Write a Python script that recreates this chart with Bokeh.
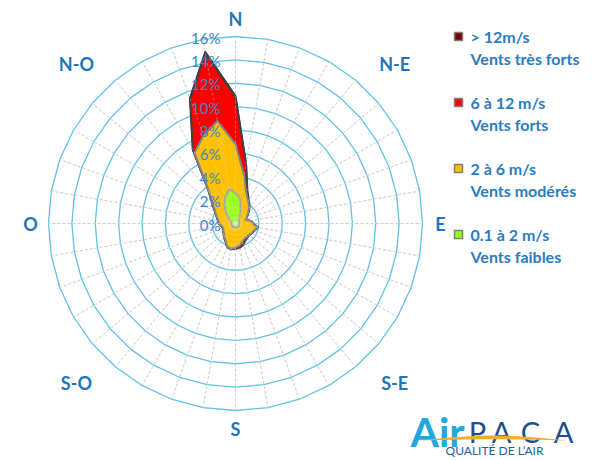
import numpy as np
from bokeh.plotting import figure
from bokeh.core.properties import value
from bokeh.embed import file_html
from bokeh.resources import INLINE

# ---------------- data (cumulative % of time, per 10-degree sector) ----------------
directions = list(range(0, 360, 10))
speed_0_2 = [2.6, 2.2, 1.3, 0.7, 0.45, 0.4, 0.36, 0.34, 0.35, 0.36, 0.35, 0.34, 0.35, 0.36, 0.35, 0.34,
             0.35, 0.36, 0.35, 0.34, 0.35, 0.36, 0.35, 0.34, 0.35, 0.36, 0.35, 0.34, 0.36, 0.4, 0.5, 0.8,
             1.3, 1.9, 2.5, 3.0]
speed_2_6 = [6.8, 4.2, 2.7, 2.2, 1.8, 1.4, 1.1, 0.9, 1.3, 1.5, 1.9, 1.7, 1.6, 1.5, 1.5, 1.5,
             1.7, 1.9, 2.1, 2.2, 2.1, 1.7, 1.5, 1.3, 1.2, 1.1, 1.2, 1.4, 1.5, 1.7, 2.0, 2.5,
             3.5, 7.0, 8.0, 8.9]
speed_6_12 = [10.8, 5.2, 3.0, 2.3, 1.9, 1.5, 1.15, 0.95, 1.35, 1.55, 1.95, 1.75, 1.65, 1.55, 1.6, 1.7,
              1.95, 2.1, 2.2, 2.25, 2.15, 1.75, 1.55, 1.35, 1.25, 1.15, 1.25, 1.45, 1.55, 1.75, 2.05, 2.6,
              3.6, 7.3, 11.3, 14.8]
speed_12 = [10.9, 5.2, 2.9, 2.2, 1.8, 1.4, 1.1, 0.9, 1.3, 1.5, 1.9, 1.7, 1.6, 1.5, 1.5, 1.5,
            1.8, 2.0, 2.1, 2.2, 2.1, 1.7, 1.5, 1.3, 1.2, 1.1, 1.2, 1.4, 1.5, 1.7, 2.0, 2.5,
            3.5, 7.3, 11.4, 14.9]

ring_values = [0, 2, 4, 6, 8, 10, 12, 14, 16]
ring_labels = ["0%", "2%", "4%", "6%", "8%", "10%", "12%", "14%", "16%"]

compass_angles = [0, 45, 90, 135, 180, 225, 270, 315]
compass_labels = ["N", "N-E", "E", "S-E", "S", "S-O", "O", "N-O"]

legend_titles = ["> 12m/s", "6 à 12 m/s", "2 à 6 m/s", "0.1 à 2 m/s"]
legend_subtitles = ["Vents très forts", "Vents forts", "Vents modérés", "Vents faibles"]
legend_colors = ["#7f0000", "#ff0000", "#ffc000", "#99ff1a"]

# ---------------- layout ----------------
W, H = 592, 460
PX = 187 / 16.0          # pixels per percent
CX, CY = 235, 223        # centre of the rose, in canvas pixels from top-left

def page_xy(px, py):
    return (px - CX) / PX, (CY - py) / PX

p = figure(width=W, height=H, output_backend="svg", toolbar_location=None,
           x_range=(-CX / PX, (W - CX) / PX), y_range=(-(H - CY) / PX, CY / PX),
           min_border=0, x_axis_location=None, y_axis_location=None,
           outline_line_color=None, background_fill_color="white", border_fill_color="white")
p.grid.visible = False

theta = np.radians(np.array(directions, dtype=float))
sx, sy = np.sin(theta), np.cos(theta)
R_MAX = ring_values[-1]

# polygonal rings
ring_xs = [list(np.append(r * sx, r * sx[0])) for r in ring_values[1:]]
ring_ys = [list(np.append(r * sy, r * sy[0])) for r in ring_values[1:]]
p.multi_line(ring_xs, ring_ys, line_color="#62c2e8", line_width=1.3)

# radial dashed lines (under)
p.segment(x0=0, y0=0, x1=R_MAX * sx, y1=R_MAX * sy, line_color="#c4c4c4",
          line_width=1, line_dash="3 2")

def radar(vals, fill, line, lw):
    v = np.array(vals, dtype=float)
    p.patch(list(v * sx), list(v * sy), fill_color=fill, line_color=line,
            line_width=lw, line_join="round")

radar(speed_12, legend_colors[0], "#303030", 2)
radar(speed_6_12, legend_colors[1], "#404040", 1.8)
radar(speed_2_6, legend_colors[2], "#858585", 2)
radar(speed_0_2, legend_colors[3], "#a6a6a6", 2)

# faint radial lines on top of fills
p.segment(x0=0, y0=0, x1=R_MAX * sx, y1=R_MAX * sy, line_color="#e6e6e6",
          line_alpha=0.35, line_width=1, line_dash="3 2")

# ring value labels
p.text(x=[0] * len(ring_values), y=ring_values, text=ring_labels, text_align="right",
       text_baseline="middle", x_offset=-15, y_offset=1, text_font=value("Lato"),
       text_font_size="15px", text_color="#3b86c6")

# compass labels
ca = np.radians(np.array(compass_angles, dtype=float))
lab_r = (205 + 20 * np.abs(np.sin(2 * ca))) / PX
p.text(x=list(lab_r * np.sin(ca)), y=list(lab_r * np.cos(ca)), text=compass_labels,
       text_align="center", text_baseline="middle", text_font=value("Lato"),
       text_font_style="bold", text_font_size="18px", text_color="#2176bb")

# legend
for i, (t, s, c) in enumerate(zip(legend_titles, legend_subtitles, legend_colors)):
    yt = 36 + 66 * i
    mx, my = page_xy(458, yt)
    p.scatter([mx], [my], marker="square", size=8, fill_color=c, line_color="#7f7f7f", line_width=1.5)
    tx, ty = page_xy(470, yt)
    p.text(x=[tx], y=[ty], text=[t], text_baseline="middle", text_font=value("Lato"),
           text_font_style="bold", text_font_size="16px", text_color="#2a7cbf")
    tx2, ty2 = page_xy(470, yt + 21.5)
    p.text(x=[tx2], y=[ty2], text=[s], text_baseline="middle", text_font=value("Lato"),
           text_font_style="bold", text_font_size="16px", text_color="#2a7cbf")

# logo
ax, ay = page_xy(410, 431)
p.text(x=[ax], y=[ay], text=["Air"], text_baseline="alphabetic", text_font=value("Lato"),
       text_font_style="bold", text_font_size="41px", text_color="#22a7e0")
for letter, lx in zip("PACA", [477, 501, 530, 563]):
    x_, y_ = page_xy(lx, 431)
    p.text(x=[x_], y=[y_], text=[letter], text_align="center", text_baseline="alphabetic",
           text_font=value("Lato"), text_font_size="29px", text_color="#1d4e91")
u = np.linspace(0, 1, 40)
top_px = 420 + 146 * u
top_py = 440 - 5 * np.sin(np.pi * u)
bot_py = 440 - 1.2 * np.sin(np.pi * u)
xs_sw = list((np.concatenate([top_px, top_px[::-1]]) - CX) / PX)
ys_sw = list((CY - np.concatenate([top_py, bot_py[::-1]])) / PX)
p.patch(xs_sw, ys_sw, fill_color="#f7ab2a", line_color=None)
qx, qy = page_xy(494, 450)
p.text(x=[qx], y=[qy], text=["QUALITÉ DE L’AIR"], text_align="center", text_baseline="alphabetic",
       text_font=value("Lato"), text_font_size="12px", text_color="#1f5ca6")

open("out.html", "w").write(file_html(p, INLINE))
